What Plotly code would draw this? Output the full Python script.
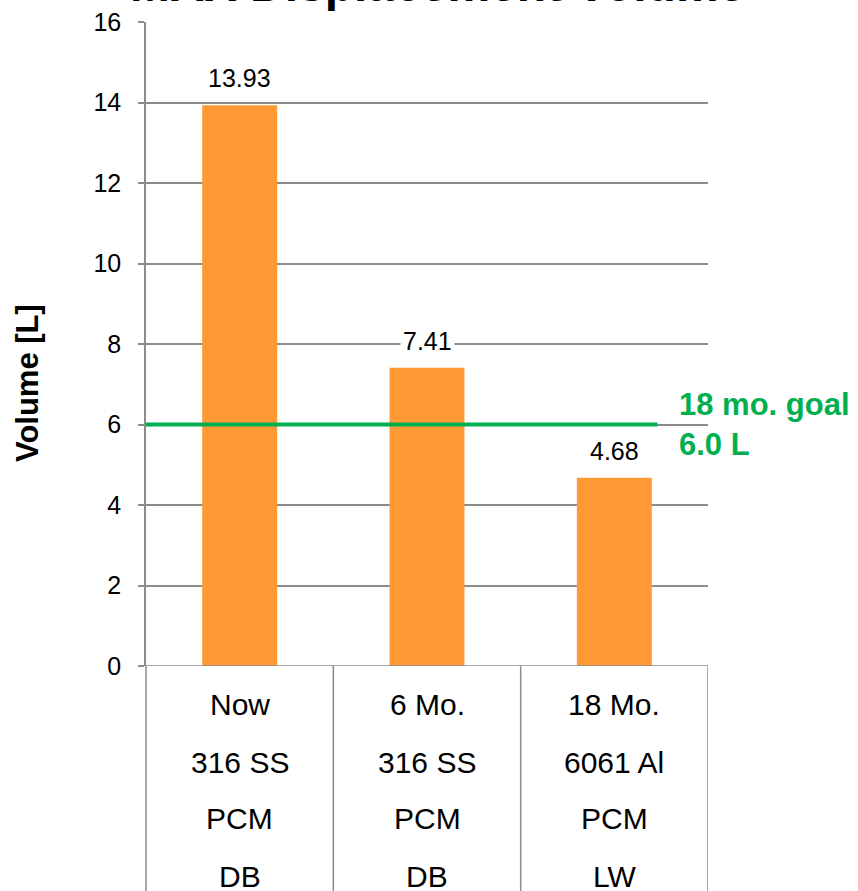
import plotly.graph_objects as go

# bar data
categories = ["Now", "6 Mo.", "18 Mo."]
material = ["316 SS", "316 SS", "6061 Al"]
storage = ["PCM", "PCM", "PCM"]
design = ["DB", "DB", "LW"]
volume = [13.93, 7.41, 4.68]
goal = 6.0
goal_text = "18 mo. goal<br>6.0 L"
title = "MAX Displacement Volume"
y_title = "Volume [L]"
y_ticks = [0, 2, 4, 6, 8, 10, 12, 14, 16]

FONT = "Liberation Sans, Arial, sans-serif"
ORANGE = "#FF9933"
GREEN = "#00B050"
GRID = "#8C8C8C"
PLOT_H = 644  # plot area height in px
PLOT_W = 562

fig = go.Figure()
fig.add_trace(go.Bar(
    x=categories, y=volume, marker=dict(color=ORANGE, line=dict(width=0)),
    showlegend=False, hoverinfo="skip",
))

# value labels with white box so the gridline breaks around them
for c, v in zip(categories, volume):
    fig.add_annotation(x=c, y=v, text=f"{v:.2f}", showarrow=False, yshift=27,
                       font=dict(family=FONT, size=25, color="#000000"),
                       bgcolor="#FFFFFF", borderpad=2)

# goal line
fig.add_shape(type="line", xref="x", yref="y", x0=-0.5, x1=2.23, y0=goal, y1=goal,
              line=dict(color=GREEN, width=4))
fig.add_annotation(xref="paper", yref="y", x=1.0, xshift=-31, y=goal, text="<b>" + goal_text + "</b>",
                   showarrow=False, xanchor="left", yanchor="middle", align="left",
                   font=dict(family=FONT, size=31, color=GREEN))

# category table below the axis
rows = [categories, material, storage, design]
row_y = [704, 762, 818, 876]
for r, py in zip(rows, row_y):
    for c, t in zip(categories, r):
        fig.add_annotation(x=c, xref="x", yref="paper", y=-(py - 666) / PLOT_H, text=t,
                           showarrow=False, yanchor="middle",
                           font=dict(family=FONT, size=30, color="#000000"))
for xb in [0.5, 1.5, 2.5]:
    fig.add_shape(type="line", xref="x", yref="paper", x0=xb, x1=xb, y0=0, y1=-0.4,
                  line=dict(color=GRID, width=1.5))
fig.add_shape(type="line", xref="paper", yref="paper", x0=0, x1=0, y0=0, y1=-0.4,
              line=dict(color=GRID, width=1.5))

# y axis title
fig.add_annotation(xref="paper", yref="paper", x=0, xshift=-118, y=(666 - 383) / PLOT_H,
                   text="<b>" + y_title + "</b>", textangle=-90, showarrow=False,
                   xanchor="center", yanchor="middle",
                   font=dict(family=FONT, size=31, color="#000000"))

# title, mostly above the top edge as in the original
fig.add_annotation(xref="paper", yref="paper", x=(437 - 146) / PLOT_W, y=1 + 38 / PLOT_H,
                   text="<b>" + title + "</b>",
                   showarrow=False, xanchor="center", yanchor="middle",
                   font=dict(family=FONT, size=48, color="#000000"))

fig.update_layout(
    width=858, height=891,
    margin=dict(l=146, r=858 - 146 - PLOT_W, t=22, b=891 - 22 - PLOT_H, autoexpand=False),
    paper_bgcolor="#FFFFFF", plot_bgcolor="#FFFFFF",
    bargap=0.6,
    font=dict(family=FONT, color="#000000"),
    xaxis=dict(showticklabels=False, showgrid=False, zeroline=False, showline=False,
               ticks="", range=[-0.5, 2.5], automargin=False),
    yaxis=dict(range=[0, 16], tickvals=y_ticks, showgrid=True, gridcolor=GRID, gridwidth=1.5,
               showline=True, linecolor=GRID, linewidth=1.5, ticks="outside", ticklen=6,
               tickcolor=GRID, tickwidth=1.5, zeroline=False, ticklabelstandoff=12,
               automargin=False, ticklabeloverflow="allow",
               tickfont=dict(family=FONT, size=25, color="#000000")),
)
fig.add_shape(type="line", xref="paper", yref="y", x0=-6 / PLOT_W, x1=1, y0=0, y1=0,
              line=dict(color=GRID, width=1.5))

# drop the default 8px page margin so the figure sits at the window corner
fig.write_html("out.html", config={"displayModeBar": False},
               post_script="document.body.style.margin='0';")
